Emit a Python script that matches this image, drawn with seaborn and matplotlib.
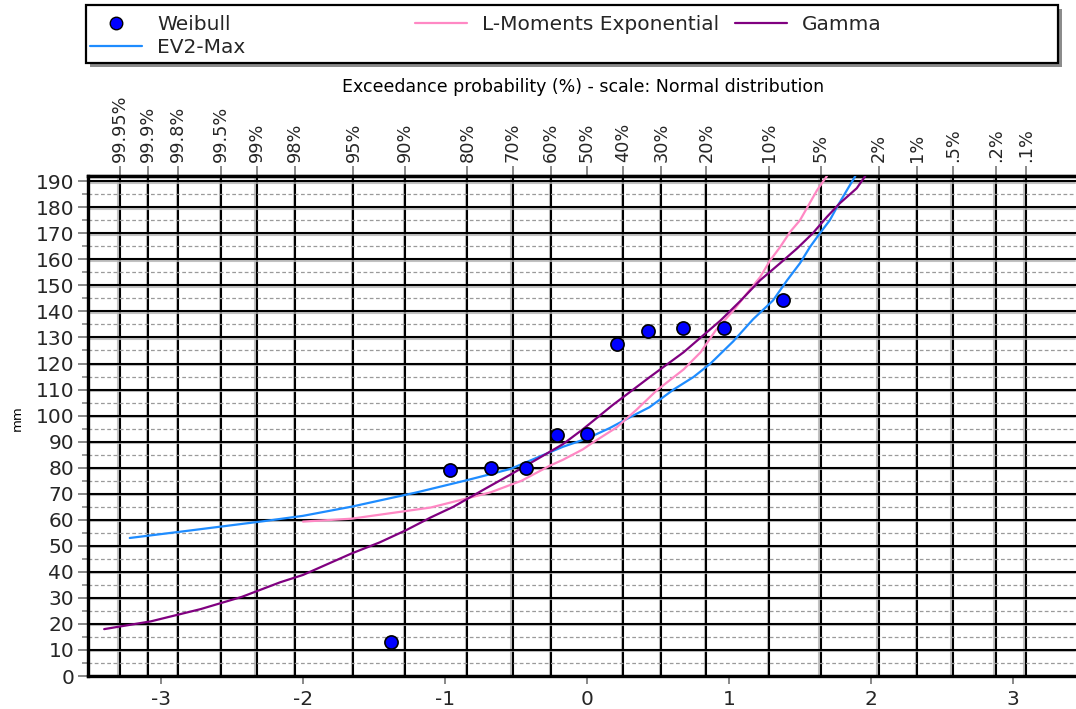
import matplotlib
matplotlib.use("Agg")
import matplotlib.pyplot as plt
import matplotlib.patheffects as pe
from matplotlib.patches import Rectangle
from matplotlib.lines import Line2D
import seaborn as sns
import pandas as pd
from statistics import NormalDist

# Observed annual maxima with Weibull plotting positions (exceedance, %)
weibull_exceedance = [91.67, 83.33, 75.0, 66.67, 58.33, 50.0, 41.67, 33.33, 25.0, 16.67, 8.33]
weibull_mm = [13, 79, 80, 80, 92.5, 93, 127.5, 132.5, 133.5, 133.5, 144.5]

# Fitted distributions: standard normal variate vs. depth (mm)
ev2_z = [-3.22, -2.85, -2.56, -2.27, -2.0, -1.66, -1.2, -0.86, -0.68, -0.54, -0.345, -0.17,
         0.0, 0.16, 0.325, 0.44, 0.61, 0.75, 0.87, 1.03, 1.17, 1.31, 1.41, 1.5, 1.57, 1.64,
         1.71, 1.76, 1.83, 1.89]
ev2_mm = [53, 55.5, 57.5, 59.5, 61.5, 65, 70.5, 75, 77.5, 79.5, 84, 88, 91.2, 95.2, 100,
          103.2, 110, 114.8, 120, 128.5, 137, 144.2, 152, 158.5, 164.7, 170, 175, 180, 186.5, 192]

lmom_z = [-2.0, -1.66, -1.32, -1.1, -0.86, -0.68, -0.46, -0.26, -0.17, -0.03, 0.04, 0.21,
          0.35, 0.49, 0.68, 0.8, 0.91, 1.03, 1.125, 1.22, 1.29, 1.36, 1.43, 1.5, 1.62, 1.69]
lmom_mm = [59.3, 60.4, 63, 64.7, 68, 70.5, 75, 80.8, 83, 87, 89.6, 95.5, 102.3, 109.6,
           117.7, 124.3, 133, 140.3, 146.8, 153.2, 159.6, 164.7, 170.5, 175, 186.5, 192]

gamma_z = [-3.4, -3.07, -2.72, -2.43, -2.16, -2.0, -1.88, -1.66, -1.46, -1.27, -1.1, -0.94,
           -0.73, -0.54, -0.35, -0.17, -0.03, 0.18, 0.44, 0.68, 0.94, 1.08, 1.22, 1.36, 1.48,
           1.59, 1.69, 1.78, 1.9, 1.96]
gamma_mm = [18, 21, 25.7, 30.4, 36, 38.8, 41.7, 47, 51.3, 56.1, 60.9, 65, 71.5, 77.3, 83.3,
            89, 94.7, 104, 114.7, 124.3, 136.5, 144, 152, 158.5, 164.2, 170, 176.3, 181.5,
            187.3, 192]

# Probability scale shown along the top axis
prob_values = [99.95, 99.9, 99.8, 99.5, 99, 98, 95, 90, 80, 70, 60, 50, 40, 30, 20, 10,
               5, 2, 1, 0.5, 0.2, 0.1]
prob_labels = ["99.95%", "99.9%", "99.8%", "99.5%", "99%", "98%", "95%", "90%", "80%",
               "70%", "60%", "50%", "40%", "30%", "20%", "10%", "5%", "2%", "1%", ".5%",
               ".2%", ".1%"]
z_ticks = [-3, -2, -1, 0, 1, 2, 3]
mm_ticks = list(range(0, 191, 10))

COL_WEIBULL = "#0000FF"
COL_EV2 = "#1E8CFF"
COL_LMOM = "#FF88C4"
COL_GAMMA = "#800080"

sns.set_theme(style="white")
plt.rcParams["font.family"] = ["DejaVu Sans"]
plt.rcParams["axes.unicode_minus"] = False

nd = NormalDist()


def to_z(exceed_pct):
    return nd.inv_cdf(1 - exceed_pct / 100.0)


W, H = 1076, 709
fig = plt.figure(figsize=(W / 100, H / 100), dpi=100)
fig.patch.set_facecolor("white")
ax = fig.add_axes([88 / W, 1 - 676 / H, 1 - 88 / W, (676 - 176) / H])
ax.set_facecolor("white")

pts = pd.DataFrame({"z": [to_z(p) for p in weibull_exceedance], "mm": weibull_mm})
curves = [
    (pd.DataFrame({"z": ev2_z, "mm": ev2_mm}), COL_EV2),
    (pd.DataFrame({"z": lmom_z, "mm": lmom_mm}), COL_LMOM),
    (pd.DataFrame({"z": gamma_z, "mm": gamma_mm}), COL_GAMMA),
]
for df, col in curves:
    sns.lineplot(data=df, x="z", y="mm", color=col, lw=1.6, sort=False,
                 estimator=None, ax=ax, zorder=3)
sns.scatterplot(data=pts, x="z", y="mm", color=COL_WEIBULL, edgecolor="black",
                linewidth=1.2, s=90, ax=ax, zorder=4)

ax.set_xlim(-3.514, 3.444)
ax.set_ylim(0, 192)
ax.set_xlabel("")
ax.set_ylabel("")

# grid: probability lines vertically, 10 mm solid / 5 mm dashed horizontally
shadow = [pe.SimpleLineShadow(offset=(-1, -1), shadow_color="0.7", alpha=0.8), pe.Normal()]
prob_z = [to_z(p) for p in prob_values]
ax.set_xticks(z_ticks)
ax.set_xticklabels([str(t) for t in z_ticks])
ax.set_xticks(prob_z, minor=True)
ax.set_yticks(mm_ticks)
ax.set_yticks([t + 5 for t in mm_ticks[:-1]], minor=True)
ax.set_axisbelow(True)
ax.grid(False)
ax.grid(True, which="minor", axis="x", color="black", lw=1.5, path_effects=shadow)
ax.grid(True, which="major", axis="y", color="black", lw=1.5, path_effects=shadow)
ax.grid(True, which="minor", axis="y", color="#9a9a9a", lw=0.9, ls=(0, (3, 2)))

ax.tick_params(axis="x", which="minor", length=0, bottom=False, top=False)
ax.tick_params(axis="x", which="major", direction="out", length=6, width=1.4,
               color="#888888", labelsize=14.5, pad=4, bottom=True, top=False)
ax.tick_params(axis="y", which="major", direction="out", length=7, width=1.4,
               color="#888888", labelsize=14.5, pad=3, left=True)
ax.tick_params(axis="y", which="minor", direction="out", length=4, width=1.2,
               color="#888888", left=True)

for side in ("left", "top", "bottom"):
    ax.spines[side].set_color("black")
    ax.spines[side].set_linewidth(2.4)
ax.spines["right"].set_visible(False)

top = ax.secondary_xaxis("top")
top.set_xticks(prob_z, labels=prob_labels)
top.tick_params(axis="x", direction="out", length=7, width=1.4, color="#888888",
                labelsize=12.8, pad=3, labelrotation=90)
top.spines["top"].set_linewidth(2.4)

fig.text(583 / W, 1 - 87 / H, "Exceedance probability (%) - scale: Normal distribution",
         ha="center", va="center", fontsize=12.5, color="black")
fig.text(17 / W, 1 - 418 / H, "mm", rotation=90, ha="center", va="center",
         fontsize=9.5, color="black")

# legend frame with drop shadow
fig.add_artist(Rectangle((90 / W, 1 - 67 / H), (1062 - 90) / W, (67 - 9) / H,
                         transform=fig.transFigure, facecolor="#8c8c8c",
                         edgecolor="none", zorder=5))
fig.add_artist(Rectangle((86 / W, 1 - 63 / H), (1058 - 86) / W, (63 - 5) / H,
                         transform=fig.transFigure, facecolor="white",
                         edgecolor="black", lw=1.6, zorder=6))

h_weibull = Line2D([], [], ls="none", marker="o", markerfacecolor=COL_WEIBULL,
                   markeredgecolor="black", markersize=9, label="Weibull")
h_ev2 = Line2D([], [], color=COL_EV2, lw=1.6, label="EV2-Max")
h_lmom = Line2D([], [], color=COL_LMOM, lw=1.6, label="L-Moments Exponential")
h_gamma = Line2D([], [], color=COL_GAMMA, lw=1.6, label="Gamma")

leg_kw = dict(loc="upper left", frameon=False, fontsize=14.5, handlelength=2.6,
              handletextpad=0.72, labelspacing=0.22, borderpad=0.0, borderaxespad=0.0)
for handles, x0 in (([h_weibull, h_ev2], 90), ([h_lmom], 415), ([h_gamma], 735)):
    lg = fig.legend(handles=handles, bbox_to_anchor=(x0 / W, 1 - 15 / H), **leg_kw)
    lg.set_zorder(7)

fig.savefig("out.png", dpi=100, facecolor="white")
